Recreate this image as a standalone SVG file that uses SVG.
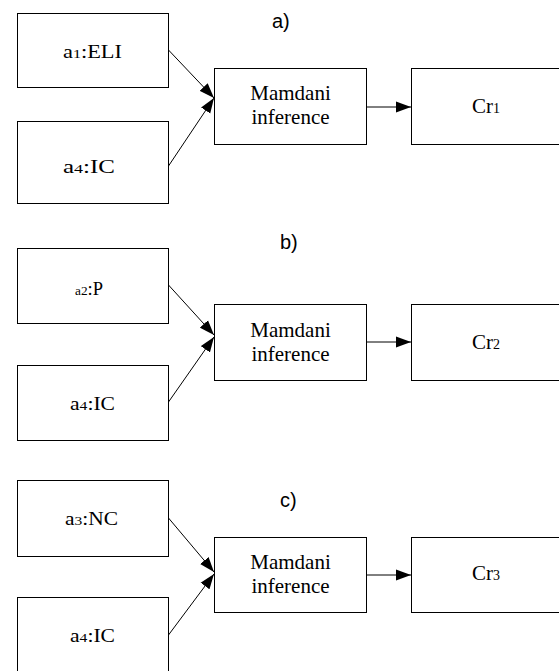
<svg xmlns="http://www.w3.org/2000/svg" width="559" height="671" viewBox="0 0 559 671">
<style>
.box{fill:#fff;stroke:#000;stroke-width:1}
.t{font-family:"Liberation Serif","Times New Roman",serif;fill:#000}
.in{font-size:18px}
.sub{font-size:13px}
.mm{font-family:"Liberation Serif","Times New Roman",serif;font-size:21px;text-anchor:middle}
.cr{font-size:21px}
.crs{font-size:14px}
.lab{font-family:"Liberation Sans",Arial,sans-serif;font-size:20px;fill:#000}
.c{stroke:#000;stroke-width:1;fill:none;marker-end:url(#ah)}
</style>
<defs>
<marker id="ah" markerUnits="userSpaceOnUse" markerWidth="16" markerHeight="12" viewBox="0 0 16 12" refX="15" refY="6" orient="auto">
<path d="M0,0.5 L15,6 L0,11.5 Z" fill="#000"/>
</marker>
</defs>
<rect width="559" height="671" fill="#fff"/>
<text class="lab" x="272" y="28">a)</text>
<text class="lab" x="280" y="249">b)</text>
<text class="lab" x="280" y="507">c)</text>
<g id="connectors">
<line class="c" x1="168.5" y1="50" x2="214" y2="98"/>
<line class="c" x1="168.5" y1="166" x2="214" y2="98"/>
<line class="c" x1="366.5" y1="107" x2="411" y2="107"/>
<line class="c" x1="168.5" y1="285" x2="214" y2="335"/>
<line class="c" x1="168.5" y1="402" x2="214" y2="337"/>
<line class="c" x1="366.5" y1="342" x2="411" y2="342"/>
<line class="c" x1="168.5" y1="518" x2="214" y2="572"/>
<line class="c" x1="168.5" y1="635" x2="214" y2="574"/>
<line class="c" x1="366.5" y1="575" x2="411" y2="575"/>
</g>
<g id="a1ELI"><rect class="box" x="17.5" y="13.5" width="151" height="74"/><text class="t in" x="63" y="58" textLength="59" lengthAdjust="spacingAndGlyphs">a<tspan class="sub">1</tspan>:ELI</text></g>
<g id="a4IC_a"><rect class="box" x="17.5" y="121.5" width="151" height="82"/><text class="t in" x="63" y="173" textLength="52" lengthAdjust="spacingAndGlyphs">a<tspan class="sub">4</tspan>:IC</text></g>
<g id="mamdani_a"><rect class="box" x="214.5" y="68.5" width="152" height="76"/><text class="t mm" x="290.5" y="100">Mamdani</text><text class="t mm" x="290.5" y="124">inference</text></g>
<g id="Cr1"><rect class="box" x="411.5" y="68.5" width="160" height="76"/><text class="t cr" x="472" y="113">Cr<tspan class="crs">1</tspan></text></g>
<g id="a2P"><rect class="box" x="17.5" y="248.5" width="151" height="75"/><text class="t in" x="75" y="295" textLength="28" lengthAdjust="spacingAndGlyphs"><tspan class="sub">a2</tspan>:P</text></g>
<g id="a4IC_b"><rect class="box" x="17.5" y="365.5" width="151" height="75"/><text class="t in" x="70" y="410" textLength="45" lengthAdjust="spacingAndGlyphs">a<tspan class="sub">4</tspan>:IC</text></g>
<g id="mamdani_b"><rect class="box" x="214.5" y="304.5" width="152" height="76"/><text class="t mm" x="290.5" y="337">Mamdani</text><text class="t mm" x="290.5" y="361">inference</text></g>
<g id="Cr2"><rect class="box" x="411.5" y="304.5" width="160" height="76"/><text class="t cr" x="472" y="349">Cr<tspan class="crs">2</tspan></text></g>
<g id="a3NC"><rect class="box" x="17.5" y="480.5" width="151" height="76"/><text class="t in" x="65" y="525" textLength="53" lengthAdjust="spacingAndGlyphs">a<tspan class="sub">3</tspan>:NC</text></g>
<g id="a4IC_c"><rect class="box" x="17.5" y="597.5" width="151" height="90"/><text class="t in" x="70" y="642" textLength="45" lengthAdjust="spacingAndGlyphs">a<tspan class="sub">4</tspan>:IC</text></g>
<g id="mamdani_c"><rect class="box" x="214.5" y="537.5" width="152" height="75"/><text class="t mm" x="290.5" y="569">Mamdani</text><text class="t mm" x="290.5" y="593">inference</text></g>
<g id="Cr3"><rect class="box" x="411.5" y="537.5" width="160" height="75"/><text class="t cr" x="472" y="580">Cr<tspan class="crs">3</tspan></text></g>
</svg>
